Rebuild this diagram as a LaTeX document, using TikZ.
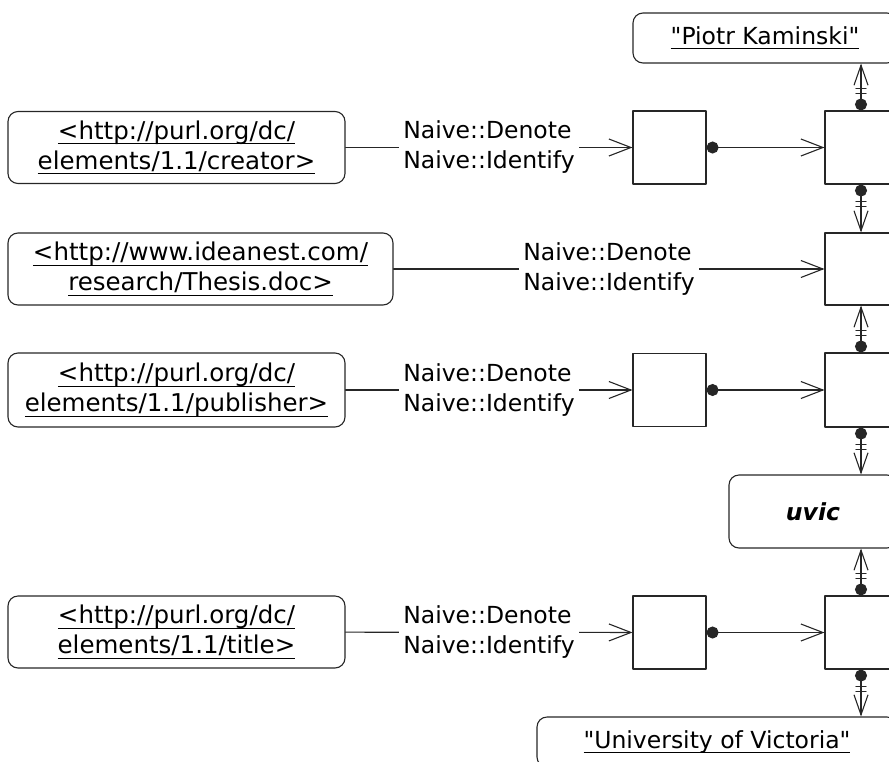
\documentclass[tikz,border=0pt]{standalone}
\usepackage{fontspec}
\setmainfont{DejaVu Sans}
\usetikzlibrary{arrows.meta,decorations.markings}

% underline drawn at a fixed depth below the baseline
\newsavebox\ulbox
\newcommand{\uln}[1]{\sbox\ulbox{#1}\rlap{\rule[-5pt]{\wd\ulbox}{1.1pt}}\usebox\ulbox}

\tikzset{
	every node/.style={font=\fontsize{23.5}{30}\selectfont},
	uri/.style={draw=black!85, line width=1.1pt, rounded corners=10pt, align=center, minimum height=72pt, inner sep=0pt, font=\fontsize{24.5}{30}\selectfont},
	blank/.style={draw=black!85, line width=1.1pt, minimum width=73pt, minimum height=73pt, inner sep=0pt},
	lit/.style={draw=black!85, line width=1.1pt, rounded corners=10pt, inner sep=0pt},
	lbl/.style={fill=white, align=left, inner sep=4pt},
	link/.style={draw=black!85, line width=1.1pt, -{Straight Barb[length=22pt,width=17pt]}},
	hold/.style={draw=black!85, line width=1.1pt, {Circle[length=12pt]}-{Straight Barb[length=22pt,width=17pt]}},
	slot/.style={draw=black!85, line width=1.1pt, {Circle[length=12pt]}-{Straight Barb[length=20pt,width=14pt]},
		postaction={decorate},
		decoration={markings,
			mark=at position 17pt with {\draw[-, line width=1.1pt] (0,-5pt) -- (0,5pt);},
			mark=at position 22pt with {\draw[-, line width=1.1pt] (0,-5pt) -- (0,5pt);}}}
}

\begin{document}
\begin{tikzpicture}[x=1pt, y=-1pt, line cap=round, line join=round]
	% Page bounds
	\def\W{889} \def\H{761}
	\useasboundingbox (0,0) rectangle (\W,\H);
	\clip (0,0) rectangle (\W,\H);
	
	% URI boxes on the left
	\node[uri, minimum width=337pt] (creator) at (176.5,147.5) {\uln{<http://purl.org/dc/}\\\uln{elements/1.1/creator>}};
	\node[uri, minimum width=385pt] (thesis) at (200.5,269) {\uln{<http://www.ideanest.com/}\\\uln{research/Thesis.doc>}};
	\node[uri, minimum width=337pt, minimum height=74pt] (publisher) at (176.5,390) {\uln{<http://purl.org/dc/}\\\uln{elements/1.1/publisher>}};
	\node[uri, minimum width=337pt] (title) at (176.5,632) {\uln{<http://purl.org/dc/}\\\uln{elements/1.1/title>}};
	
	% Blank property boxes
	\node[blank] (pcreator) at (669.5,147.5) {};
	\node[blank] (ppublisher) at (669.5,390) {};
	\node[blank] (ptitle) at (669.5,632.5) {};
	
	% Blank resource boxes, cut by the right edge
	\node[blank, minimum width=72pt] (rcreator) at (861,147.5) {};
	\node[blank, minimum width=72pt, minimum height=72pt] (rthesis) at (861,269) {};
	\node[blank, minimum width=72pt, minimum height=74pt] (rpublisher) at (861,390) {};
	\node[blank, minimum width=72pt] (rtitle) at (861,632.5) {};
	
	% Literals and the named node
	\node[lit, minimum width=264pt, minimum height=50pt] (piotr) at (765,38) {\uln{\textquotedbl Piotr Kaminski\textquotedbl}};
	\node[lit, minimum width=168pt, minimum height=73pt] (uvic) at (813,511.5) {\textbf{\textit{uvic}}};
	\node[lit, minimum width=360pt, minimum height=50pt] (univ) at (717,742) {\uln{\textquotedbl University of Victoria\textquotedbl}};
	
	% Denote / Identify connectors
	\draw[link] (creator) -- node[lbl]{Naive::Denote\\Naive::Identify} (pcreator);
	\draw[link] (thesis) -- node[lbl]{Naive::Denote\\Naive::Identify} (rthesis);
	\draw[link] (publisher) -- node[lbl]{Naive::Denote\\Naive::Identify} (ppublisher);
	\draw[link] (title) -- node[lbl]{Naive::Denote\\Naive::Identify} (ptitle);
	
	% Property to resource
	\draw[hold] (pcreator) -- (rcreator);
	\draw[hold] (ppublisher) -- (rpublisher);
	\draw[hold] (ptitle) -- (rtitle);
	
	% Vertical slots with ticks
	\draw[slot] (rcreator.north) -- (rcreator.north |- piotr.south);
	\draw[slot] (rcreator.south) -- (rthesis.north);
	\draw[slot] (rpublisher.north) -- (rthesis.south);
	\draw[slot] (rpublisher.south) -- (rpublisher.south |- uvic.north);
	\draw[slot] (rtitle.north) -- (rtitle.north |- uvic.south);
	\draw[slot] (rtitle.south) -- (rtitle.south |- univ.north);
\end{tikzpicture}
\end{document}
